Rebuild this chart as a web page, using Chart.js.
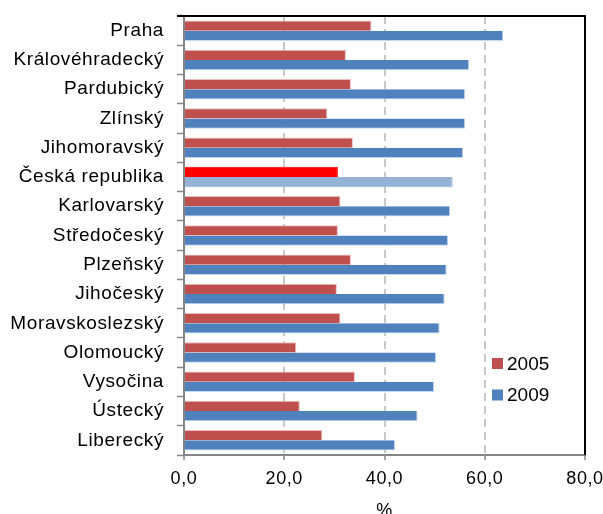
<!DOCTYPE html>
<html>
<head>
<meta charset="utf-8">
<script src="https://cdn.jsdelivr.net/npm/chart.js@4"></script>
<style>
html,body{margin:0;padding:0;background:#fff;}
#wrap{width:603px;height:514px;}
</style>
</head>
<body>
<div id="wrap"><canvas id="c" width="603" height="514"></canvas></div>
<script>
const categories = ["Praha","Královéhradecký","Pardubický","Zlínský","Jihomoravský","Česká republika","Karlovarský","Středočeský","Plzeňský","Jihočeský","Moravskoslezský","Olomoucký","Vysočina","Ústecký","Liberecký"];
const values2005 = [37.4,32.3,33.3,28.6,33.7,30.7,31.2,30.7,33.3,30.5,31.2,22.4,34.1,23.1,27.6];
const values2009 = [63.7,56.9,56.1,56.1,55.7,53.6,53.1,52.7,52.4,52.0,51.0,50.3,49.9,46.6,42.1];
const seriesLabels = ["2005","2009"];
const xTicks = [0,20,40,60,80];
const highlight = "Česká republika";

const red = "#C0504D", blue = "#4F81BD", hiRed = "#FF0000", hiBlue = "#95B3D7";
const font = "'Liberation Sans', Arial, sans-serif";

const plotBorder = {
  id: 'plotBorder',
  beforeDraw(chart) {
    chart.ctx.letterSpacing = '0.6px';
  },
  afterDraw(chart) {
    const {ctx, chartArea: a} = chart;
    ctx.save();
    ctx.strokeStyle = '#000';
    ctx.lineWidth = 2;
    ctx.beginPath();
    ctx.moveTo(a.left - 7, a.top);
    ctx.lineTo(a.right, a.top);
    ctx.lineTo(a.right, a.bottom);
    ctx.stroke();
    // legend
    const items = [[seriesLabels[0], red, 363.5], [seriesLabels[1], blue, 395]];
    ctx.font = "19px " + font;
    ctx.letterSpacing = '0px';
    ctx.textBaseline = 'middle';
    ctx.textAlign = 'left';
    items.forEach(([t, c, y]) => {
      ctx.fillStyle = c;
      ctx.fillRect(492, y - 5.5, 11, 11);
      ctx.fillStyle = '#000';
      ctx.fillText(t, 507, y + 1);
    });
    ctx.restore();
  }
};

new Chart(document.getElementById('c'), {
  type: 'bar',
  data: {
    labels: categories,
    datasets: [
      { label: seriesLabels[0], data: values2005,
        backgroundColor: categories.map(c => c === highlight ? hiRed : red),
        borderColor: categories.map(c => c === highlight ? hiRed : 'rgba(235,170,170,0.8)'),
        borderWidth: {top:1,right:1,bottom:0,left:0},
        categoryPercentage: 0.7, barPercentage: 1.0 },
      { label: seriesLabels[1], data: values2009,
        backgroundColor: categories.map(c => c === highlight ? hiBlue : blue),
        borderColor: categories.map(c => c === highlight ? hiBlue : 'rgba(190,210,240,0.9)'),
        borderWidth: {top:0,right:1,bottom:1,left:0},
        categoryPercentage: 0.7, barPercentage: 1.0 }
    ]
  },
  options: {
    indexAxis: 'y',
    responsive: false,
    animation: false,
    devicePixelRatio: 1,
    layout: { padding: { top: 16, right: 18, left: 0, bottom: 0 } },
    plugins: { legend: { display: false }, tooltip: { enabled: false } },
    scales: {
      x: {
        min: 0, max: 80,
        afterBuildTicks(s) { s.ticks = xTicks.map(v => ({value: v})); },
        afterFit(s) { s.height = 59; s.paddingLeft = 0; s.paddingRight = 0; },
        ticks: {
          color: '#000', font: { family: font, size: 18 }, padding: 8,
          callback: v => v.toFixed(1).replace('.', ',')
        },
        grid: {
          color: ctx => (ctx.tick && (ctx.tick.value === 0 || ctx.tick.value === 80)) ? 'rgba(0,0,0,0)' : '#C8C8C8',
          lineWidth: 2,
          tickColor: '#868686', tickLength: 5, tickWidth: 1.5
        },
        border: { color: '#868686', width: 2, dash: [8, 5] },
        title: { display: true, text: '%', color: '#000', font: { family: font, size: 18 }, padding: { top: 0, bottom: -8 } }
      },
      y: {
        afterFit(s) { s.width = 184; s.paddingTop = 0; s.paddingBottom = 0; },
        ticks: { color: '#000', font: { family: font, size: 19 }, padding: 13, autoSkip: false },
        grid: { offset: true, drawOnChartArea: false, drawTicks: true, tickLength: 7, tickColor: '#868686', tickWidth: 1.5 },
        border: { color: '#868686', width: 2 }
      }
    }
  },
  plugins: [plotBorder]
});
</script>
</body>
</html>
